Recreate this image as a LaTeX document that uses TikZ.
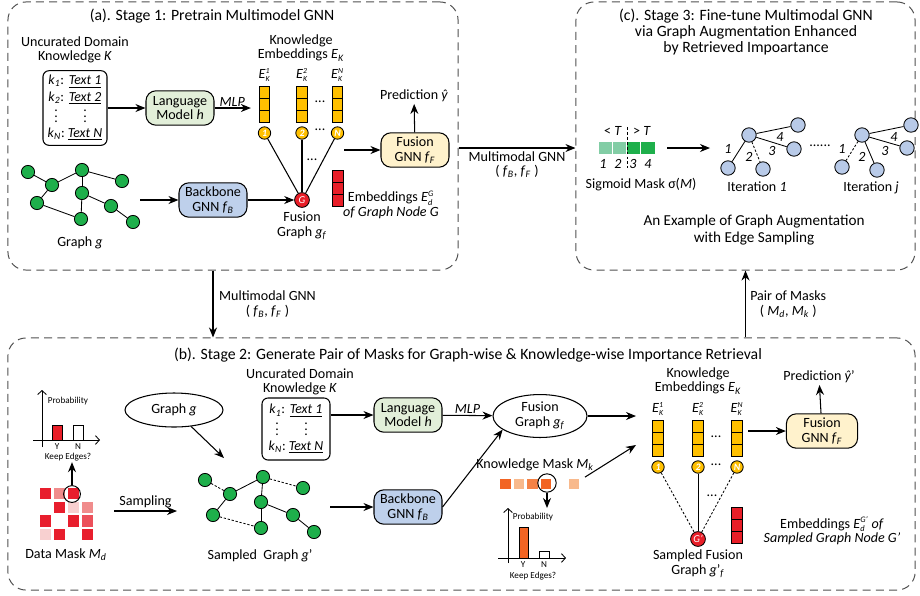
\documentclass[tikz,border=0pt]{standalone}
\usepackage{fontspec}
\setmainfont{Carlito}
\usetikzlibrary{arrows.meta, positioning, calc, shapes.geometric}

\definecolor{gnngreen}{RGB}{30,175,75}
\definecolor{nodeblue}{RGB}{184,202,232}
\definecolor{embyellow}{RGB}{255,192,0}
\definecolor{embred}{RGB}{232,30,40}
\definecolor{lmgreen}{RGB}{226,239,217}
\definecolor{bbblue}{RGB}{190,208,235}
\definecolor{fuyellow}{RGB}{255,242,204}
\definecolor{maskorange}{RGB}{242,100,35}
\definecolor{masklight}{RGB}{248,185,140}
\definecolor{maskmid}{RGB}{244,130,70}
\definecolor{siglight}{RGB}{130,205,165}
\definecolor{sigdark}{RGB}{30,175,75}
\definecolor{redfull}{RGB}{232,30,45}
\definecolor{redhalf}{RGB}{240,140,140}
\definecolor{redpale}{RGB}{248,208,208}
\definecolor{redmid}{RGB}{236,80,90}
\definecolor{framegray}{RGB}{80,80,80}

\newcommand{\kk}[1]{\textit{k}\textsubscript{\textit{#1}}}
\newcommand{\Ek}[1]{\textit{E}$^{\hbox{\fontsize{5.5}{5}\selectfont\textit{#1}}}_{\hbox{\fontsize{5.5}{5}\selectfont\textit{K}}}$}
\newcommand{\Ed}[1]{\textit{E}$^{\hbox{\fontsize{6}{5}\selectfont\textit{#1}}}_{\hbox{\fontsize{6}{5}\selectfont\textit{d}}}$}
\newcommand{\sbi}[2]{\textit{#1}\textsubscript{\textit{#2}}}

\begin{document}
\begin{tikzpicture}[
    x=0.025cm, y=-0.025cm,
    >={Stealth[length=2.5mm,width=2mm]},
    line width=0.75pt,
    % styles
    stagebox/.style={draw=framegray, dash pattern=on 2mm off 1.3mm, rounded corners=4.5mm, line width=0.7pt, inner sep=0},
    title/.style={font=\fontsize{11.2}{11.6}\selectfont, align=center, inner sep=1pt},
    lbl/.style={font=\fontsize{10}{10.4}\selectfont, align=center, inner sep=1pt},
    elbl/.style={font=\fontsize{10}{10.4}\selectfont\itshape, inner sep=1pt},
    tiny/.style={font=\fontsize{6.5}{7}\selectfont, inner sep=0.5pt},
    modbox/.style={draw, rounded corners=2.5mm, minimum width=1.7cm, minimum height=0.86cm, align=center, font=\fontsize{10}{10.4}\selectfont, inner sep=1pt},
    textbox/.style={draw, rounded corners=1.5mm, font=\fontsize{9.8}{11.5}\selectfont, inner sep=2pt},
    gnode/.style={circle, draw, fill=gnngreen, minimum size=0.33cm, inner sep=0, line width=0.6pt},
    bnode/.style={circle, draw, fill=nodeblue, minimum size=0.36cm, inner sep=0, line width=0.6pt},
    embbar/.style={draw, minimum width=0.26cm, minimum height=0.9cm, inner sep=0, line width=0.6pt,
        path picture={
            \draw ([yshift=0.15cm]path picture bounding box.west) -- ([yshift=0.15cm]path picture bounding box.east);
            \draw ([yshift=-0.15cm]path picture bounding box.west) -- ([yshift=-0.15cm]path picture bounding box.east);}},
    embcol/.style={embbar, fill=embyellow},
    redcol/.style={embbar, fill=embred},
    numnode/.style={circle, draw, fill=embyellow, minimum size=0.31cm, inner sep=0, line width=0.6pt, font=\fontsize{7}{7}\selectfont\bfseries\itshape, text=white},
    fusnode/.style={circle, draw, fill=embred, minimum size=0.37cm, inner sep=0, line width=0.6pt, font=\fontsize{7.5}{7.5}\selectfont\itshape, text=white},
    cell/.style={minimum width=0.28cm, minimum height=0.28cm, inner sep=0},
    sigcell/.style={minimum width=0.33cm, minimum height=0.3cm, inner sep=0},
    mkcell/.style={minimum width=0.27cm, minimum height=0.25cm, inner sep=0},
    selring/.style={circle, draw, inner sep=0, line width=0.7pt},
    samp/.style={dash pattern=on 1.6pt off 1.3pt, line width=0.6pt},
    axis/.style={line width=0.6pt, -{Straight Barb[length=1mm,width=2.2mm]}}
]
\useasboundingbox (0,0) rectangle (920,595);

% --- Stage frames ---
\node[stagebox, minimum width=11.25cm, minimum height=6.7cm] (sta) at (233,136) {};
\node[stagebox, minimum width=8.475cm, minimum height=6.7cm] (stc) at (745.5,136) {};
\node[stagebox, minimum width=22.675cm, minimum height=6.3cm] (stb) at (461.5,464) {};

\node[title] (tta) at (212,16) {(a). Stage 1: Pretrain Multimodel GNN};
\node[title] (ttc) at (746,32) {(c). Stage 3: Fine-tune Multimodal GNN\\via Graph Augmentation Enhanced\\by Retrieved Impoartance};
\node[title] (ttb) at (468,355) {(b). Stage 2: Generate Pair of Masks for Graph-wise \& Knowledge-wise Importance Retrieval};

% --- Stage 1 ---
\node[lbl] (ukA) at (75,50) {Uncurated Domain\\Knowledge \textit{K}};
\node[textbox, minimum width=1.6cm, minimum height=1.85cm] (kbA) at (75,108) {%
    \begin{tabular}{@{}c@{\ }c@{}}
    \kk{1}: & \underline{\textit{Text 1}}\\
    \kk{2}: & \underline{\textit{Text 2}}\\[-3pt]
    $\vdots$ & $\vdots$\\[-1pt]
    \kk{N}: & \underline{\textit{Text N}}
    \end{tabular}};
\node[modbox, fill=lmgreen] (lmA) at (180,108) {Language\\Model \textit{h}};
\node[modbox, fill=bbblue] (bbA) at (213,200) {Backbone\\GNN \sbi{f}{B}};

\node[lbl] (keA) at (301,48) {Knowledge\\Embeddings \sbi{E}{K}};
\foreach \i/\x/\n in {1/264.5/1, 2/302/2, 3/337.5/N} {
    \node[elbl] (elA\i) at (\x,75) {\Ek{\n}};
    \node[embcol] (eA\i) at (\x,104) {};
    \node[numnode] (nA\i) at (\x,133) {\n};
}
\node[lbl] (dtA1) at (320,102) {...};
\node[lbl] (dtA2) at (320,130) {...};
\node[lbl] (dtA3) at (312,160) {...};

\node[fusnode] (fusA) at (302,200) {G};
\foreach \i in {1,2,3} \draw (nA\i) -- (fusA);
\node[redcol] (rA) at (338,188) {};
\node[lbl] (edA) at (391,205) {Embeddings \Ed{G}\\\textit{of Graph Node G}};
\node[lbl] (fgA) at (302,226) {Fusion\\Graph \sbi{g}{f}};

% graph g
\foreach \n/\x/\y in {a/28/172, b/52/185, c/82/170, d/122/181, e/82/193, f/37/203, g/111/206, h/81/219, i/133/222}
    \node[gnode] (g\n) at (\x,\y) {};
\foreach \u/\v in {a/b, b/c, c/d, c/e, b/f, f/h, e/h, e/g, g/i}
    \draw[line width=0.6pt] (g\u) -- (g\v);
\node[lbl] (glA) at (80,243) {Graph \textit{g}};

\coordinate (ginA) at (140,200);
\draw[->] (ginA) -- (bbA);
\draw[->] (bbA) -- (fusA);
\draw[->] (kbA) -- (lmA);
\draw[->, shorten >=0.2cm] (lmA) -- node[above, elbl, pos=0.4] {MLP} (eA1.west |- lmA);

\node[modbox, fill=fuyellow] (fuA) at (415,150) {Fusion\\GNN \sbi{f}{F}};
\coordinate (eoutA) at (344,150);
\draw[->] (eoutA) -- (fuA);
\node[lbl] (prA) at (414,96) {Prediction \textit{ŷ}};
\draw[->] (fuA) -- (prA);

% --- Between stages ---
\draw[->] ([yshift=-0.3cm]sta.east) -- node[below, lbl, yshift=-1pt] {Multimodal GNN\\( \sbi{f}{B}, \sbi{f}{F} )} ([yshift=-0.3cm]stc.west);
\draw[->] (sta.south -| bbA) -- node[right, lbl, xshift=3pt] {Multimodal GNN\\( \sbi{f}{B}, \sbi{f}{F} )} (stb.north -| bbA);
\draw[->] (stb.north -| stc) -- node[right, lbl, xshift=2pt] {Pair of Masks\\( \sbi{M}{d}, \sbi{M}{k} )} (stc.south);

% --- Stage 3 ---
\foreach \i/\x/\c in {1/605.5/siglight, 2/619.5/siglight, 3/633.5/sigdark, 4/648/sigdark}
    \node[sigcell, fill=\c] (s\i) at (\x,148) {};
\coordinate (thrT) at (627,127);
\coordinate (thrB) at (627,168);
\draw[dash pattern=on 2pt off 1.5pt, line width=0.5pt] (thrT) -- (thrB);
\node[lbl] (ltT) at (613,131) {< \textit{T}};
\node[lbl] (gtT) at (642,131) {> \textit{T}};
\foreach \i/\x in {1/603, 2/618, 3/633, 4/648}
    \node[elbl] (sn\i) at (\x,164) {\i};
\node[lbl] (sigl) at (641,185) {Sigmoid Mask σ(\textit{M})};
\coordinate (itout) at (667,148);
\coordinate (itin) at (710,148);
\draw[->] (itout) -- (itin);

% iteration 1
\foreach \n/\x/\y in {c/749/135, a/798/125, b/794/149, d/728/168, e/763/169}
    \node[bnode] (p\n) at (\x,\y) {};
\draw[line width=0.6pt] (pc) -- (pa);
\draw[line width=0.6pt] (pc) -- (pb);
\draw[line width=0.6pt] (pc) -- (pd);
\draw[samp] (pc) -- (pe);
\node[elbl] (pl1) at (728,149) {1};
\node[elbl] (pl2) at (749,157) {2};
\node[elbl] (pl3) at (772,151) {3};
\node[elbl] (pl4) at (780,137) {4};
\node[lbl] (it1l) at (757,187) {Iteration \textit{1}};

\node[lbl] (idots) at (820,146) {......};

% iteration j
\foreach \n/\x/\y in {c/862/135, a/911/125, b/907/148, d/842/167, e/877/170}
    \node[bnode] (q\n) at (\x,\y) {};
\draw[line width=0.6pt] (qc) -- (qa);
\draw[line width=0.6pt] (qc) -- (qb);
\draw[samp] (qc) -- (qd);
\draw[line width=0.6pt] (qc) -- (qe);
\node[elbl] (ql1) at (842,149) {1};
\node[elbl] (ql2) at (862,157) {2};
\node[elbl] (ql3) at (885,151) {3};
\node[elbl] (ql4) at (894,137) {4};
\node[lbl] (itjl) at (871,188) {Iteration \textit{j}};

\node[lbl, font=\fontsize{10.8}{12}\selectfont] (exl) at (754,230) {An Example of Graph Augmentation\\with Edge Sampling};

% --- Stage 2 ---
% probability chart (data mask)
\draw[axis] (42,447) -- (42,390);
\draw[axis] (33,440) -- (100,440);
\draw[fill=embred, line width=0.6pt] (52,425) rectangle (62,440);
\draw[fill=white, line width=0.6pt] (73,425) rectangle (83,440);
\node[tiny] (pb1) at (68,401) {Probability};
\node[tiny] (py1) at (57,446.5) {Y};
\node[tiny] (pn1) at (78,446.5) {N};
\node[tiny] (ke1) at (68,457) {Keep Edges?};

% data mask
\foreach \r/\c/\col in {1/1/redfull, 1/2/redhalf, 1/3/redfull, 2/2/redfull, 2/3/redpale, 2/4/redhalf, 3/1/redfull, 3/3/redfull, 3/4/redmid, 4/1/redpale, 4/2/redfull, 4/4/redfull}
    \node[cell, fill=\col] (dm\r\c) at ({45.5+14*(\c-1)}, {493.5+13.7*(\r-1)}) {};
\node[selring, minimum size=0.42cm] (dmsel) at (72,494) {};
\draw[->] (dmsel) -- (dmsel |- ke1.south);
\node[lbl] (dml) at (66,555) {Data Mask \sbi{M}{d}};

\coordinate (smA) at (114,511);
\coordinate (smB) at (177,511);
\draw[->] (smA) -- node[above, lbl, yshift=1pt] {Sampling} (smB);

\node[ellipse, draw, minimum width=2.45cm, minimum height=0.85cm, lbl] (grB) at (174,410) {Graph \textit{g}};
\coordinate (grBin) at (224,458);
\draw[->] (grB) -- (grBin);

% sampled graph g'
\foreach \n/\x/\y in {a/205/480, b/230/494, c/263/477, d/303/488, e/261/502, f/213/515, g/293/515, h/261/528, i/314/532}
    \node[gnode] (h\n) at (\x,\y) {};
\foreach \u/\v in {b/c, c/e, b/f, e/h, e/g, g/i}
    \draw[line width=0.6pt] (h\u) -- (h\v);
\foreach \u/\v in {a/b, c/d, f/h}
    \draw[samp] (h\u) -- (h\v);
\node[lbl] (sgl) at (260,556) {Sampled\ \ Graph \textit{g}’};

\node[lbl] (ukB) at (300,382) {Uncurated Domain\\Knowledge \textit{K}};
\node[textbox, minimum width=1.7cm, minimum height=1.55cm] (kbB) at (296,429) {%
    \begin{tabular}{@{}c@{\ }c@{}}
    \kk{1}: & \underline{\textit{Text 1}}\\[-3pt]
    $\vdots$ & $\vdots$\\[-1pt]
    \kk{N}: & \underline{\textit{Text N}}
    \end{tabular}};
\node[modbox, fill=lmgreen] (lmB) at (408,415) {Language\\Model \textit{h}};
\node[modbox, fill=bbblue] (bbB) at (408,507) {Backbone\\GNN \sbi{f}{B}};
\node[ellipse, draw, minimum width=2.35cm, minimum height=1cm, lbl] (fgB) at (540,416) {Fusion\\Graph \sbi{g}{f}};

\coordinate (sgout) at (330,507);
\draw[->] (sgout) -- (bbB);
\draw[->] (kbB.east |- lmB) -- (lmB);
\draw[->] (lmB) -- node[above, elbl] {MLP} (fgB);
\draw[->] (bbB.east) -- (fgB.200);
\coordinate (ekin1) at (636,416);
\draw[->] (fgB) -- (ekin1);

% knowledge mask
\node[lbl] (mkl) at (535,465) {Knowledge Mask \sbi{M}{k}};
\foreach \i/\x/\c in {1/505.5/maskorange, 2/519/masklight, 3/532.5/maskmid, 4/546/maskorange, 5/574/masklight}
    \node[mkcell, fill=\c] (mk\i) at (\x,484) {};
\node[selring, minimum size=0.46cm] (mksel) at (547,483) {};
\coordinate (mkdown) at (547,508);
\draw[->] (mksel) -- (mkdown);
\coordinate (ekin2) at (636,445);
\draw[->, shorten <=0.15cm] (mk5) -- (ekin2);

\draw[axis] (508,563) -- (508,508);
\draw[axis] (498,558) -- (566,558);
\draw[fill=maskorange, line width=0.6pt] (519,527) rectangle (528,558);
\draw[fill=white, line width=0.6pt] (539,551) rectangle (549,558);
\node[tiny] (pb2) at (533,517) {Probability};
\node[tiny] (py2) at (523,565) {Y};
\node[tiny] (pn2) at (544,565) {N};
\node[tiny] (ke2) at (533,576) {Keep Edges?};

% knowledge embeddings (stage 2)
\node[lbl] (keB) at (698,381) {Knowledge\\Embeddings \sbi{E}{K}};
\foreach \i/\x/\n in {1/658/1, 2/698/2, 3/737/N} {
    \node[elbl] (elB\i) at (\x,409) {\Ek{\n}};
    \node[embcol] (eB\i) at (\x,438.5) {};
    \node[numnode] (nB\i) at (\x,467) {\n};
}
\node[lbl] (dtB1) at (716,437) {...};
\node[lbl] (dtB2) at (716,465) {...};
\node[lbl] (dtB3) at (712,496) {...};

\node[fusnode] (fusB) at (698,539) {G’};
\draw[samp] (nB1) -- (fusB);
\draw[line width=0.6pt] (nB2) -- (fusB);
\draw[samp] (nB3) -- (fusB);
\node[redcol] (rB) at (737,525) {};
\node[lbl] (fgBl) at (698,564) {Sampled Fusion\\Graph \textit{g}’\textsubscript{\textit{f}}};
\node[lbl] (edB) at (832,531) {Embeddings \Ed{G’} \textit{of}\\\textit{Sampled Graph Node G’}};

\node[modbox, fill=fuyellow, minimum width=1.78cm] (fuB) at (822,431) {Fusion\\GNN \sbi{f}{F}};
\coordinate (eoutB) at (748,431);
\draw[->] (eoutB) -- (fuB);
\node[lbl] (prB) at (819,377) {Prediction \textit{ŷ}’};
\draw[->] (fuB) -- (prB);

\end{tikzpicture}
\end{document}
